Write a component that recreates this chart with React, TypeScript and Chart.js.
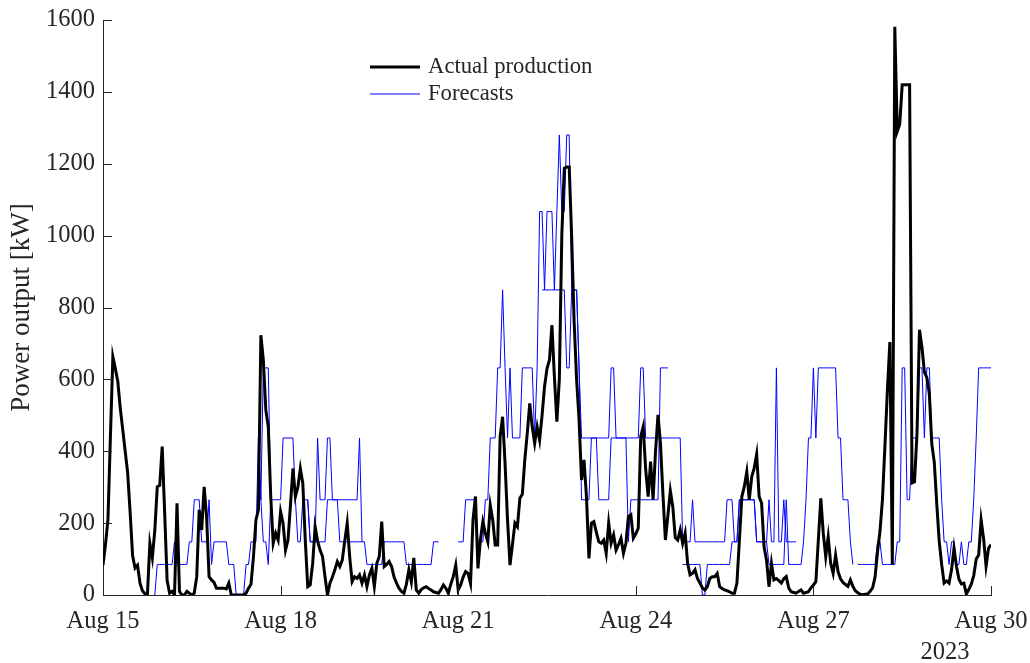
import React, { useEffect, useRef } from "react";
import { Chart, registerables } from "chart.js";

Chart.register(...registerables);

// Hourly measured output [kW], one array per day (first value = 00:00)
const aug15 = [83, 140, 209, 440, 663, 630, 594, 520, 460, 400, 340, 230, 110, 75, 83, 33, 12, 3, 0, 144, 103, 180, 301, 305];
const aug16 = [413, 228, 40, 5, 10, 0, 255, 10, 0, 0, 10, 5, 0, 5, 51, 237, 181, 301, 218, 51, 42, 35, 19, 19];
const aug17 = [19, 19, 17, 33, 0, 0, 0, 0, 0, 0, 5, 19, 30, 107, 209, 237, 723, 654, 515, 468, 274, 144, 172, 153];
const aug18 = [232, 200, 125, 153, 250, 352, 274, 300, 352, 311, 153, 23, 28, 88, 190, 150, 125, 107, 51, 0, 33, 50, 70, 93];
const aug19 = [79, 97, 150, 200, 107, 37, 51, 46, 56, 33, 56, 23, 56, 74, 23, 88, 107, 204, 79, 85, 93, 79, 50, 33];
const aug20 = [19, 10, 5, 30, 70, 37, 103, 14, 5, 15, 20, 23, 18, 14, 9, 7, 5, 15, 28, 19, 5, 30, 51, 83];
const aug21 = [14, 28, 50, 65, 60, 32, 209, 274, 74, 153, 204, 172, 148, 250, 209, 139, 139, 441, 496, 366, 209, 83, 140, 200];
const aug22 = [190, 269, 280, 376, 450, 533, 468, 422, 468, 431, 500, 580, 630, 654, 751, 607, 482, 600, 1000, 1187, 1191, 1191, 997, 760];
const aug23 = [600, 487, 320, 376, 274, 102, 200, 204, 175, 148, 144, 153, 116, 200, 144, 167, 125, 140, 158, 116, 144, 218, 223, 158];
const aug24 = [170, 186, 441, 468, 350, 274, 371, 265, 400, 501, 422, 280, 153, 220, 290, 245, 160, 153, 181, 144, 172, 88, 56, 60];
const aug25 = [70, 46, 33, 20, 14, 23, 46, 51, 51, 60, 23, 18, 14, 12, 9, 5, 5, 33, 153, 274, 302, 343, 265, 329];
const aug26 = [353, 392, 274, 255, 134, 97, 23, 88, 42, 46, 40, 33, 45, 51, 19, 9, 7, 5, 10, 14, 5, 7, 9, 20];
const aug27 = [28, 37, 153, 269, 172, 107, 162, 88, 60, 111, 65, 45, 35, 29, 24, 42, 24, 12, 6, 2, 1, 2, 3, 10];
const aug28 = [20, 50, 120, 178, 266, 415, 570, 704, 85, 1581, 1290, 1310, 1420, 1420, 1420, 1420, 312, 315, 450, 738, 690, 620, 605, 560];
const aug29 = [420, 370, 255, 150, 85, 33, 39, 33, 70, 130, 80, 44, 31, 33, 3, 15, 30, 54, 100, 111, 209, 157, 80, 130];
const aug30 = [140];

// Forecast runs [kW]; each run starts at the given hour after Aug 15 00:00
const forecastRun1Start = 21;
const forecastRun1 = [
  0, 85, 85, 85, 85, 85, 85, 85, 148, 85, 85, 85, 85, 85, 148, 148, 265, 265, 265, 148, 148, 148, 265, 85,
  148, 148, 148, 148, 148, 148, 85, 85, 85, 0, 0, 0, 0, 85, 85, 148, 148, 148, 437, 265, 148, 148, 85,
  265, 265, 265, 265, 265, 437, 437, 437, 437, 437, 265, 148, 148, 265, 265, 265, 148, 148, 148, 437,
  265, 265, 265, 437, 437, 265, 265, 265, 265, 265, 265, 265, 265, 265, 265, 265, 437, 148, 148,
  85, 85, 85, 85, 85, 85, 85, 148, 148, 148, 148, 148, 148, 148, 148, 148,
  85, 85, 85, 85, 85, 85, 85, 85, 85, 85, 85, 148, 148, 148,
];
const forecastRun2Start = 63;
const forecastRun2 = [437, 265, 632, 632, 632, 265];
const forecastRun3Start = 83;
const forecastRun3 = [
  265, 148, 148, 148, 148, 148, 148, 148, 265, 265, 265, 265, 265,
  148, 148, 148, 148, 148, 148, 148, 148, 148, 148,
];
const forecastRun4Start = 144;
const forecastRun4 = [
  148, 148, 148, 265, 265, 265, 265, 265, 148, 148, 148, 265, 265, 437, 437, 437, 632, 632, 849, 632, 437, 632,
  437, 437, 437, 437, 632, 632, 632, 632, 632, 437, 632, 1067, 1067, 849, 1067, 1067, 1067, 849, 1067, 1280,
  1067, 1067, 1280, 1280, 849, 849, 849, 632,
  437, 437, 437, 437, 437, 437, 437, 437, 437, 437, 437, 437, 632, 632,
  437, 437, 437, 437, 437, 437, 437, 437, 437, 437, 632, 632,
  437, 437, 437, 437, 437, 437, 437, 437, 437, 437, 437, 437, 437, 437, 437,
  148, 148, 148, 148, 265, 148, 148, 148, 148, 148, 148, 148, 148, 148, 148, 148, 148, 148,
  265, 265, 265, 148, 148, 265, 265, 265, 265, 265, 265, 265, 148, 148, 148, 148, 148,
  265, 148, 148, 632, 148, 148, 265, 148, 148, 148, 148, 148,
];
const forecastRun5Start = 178;
const forecastRun5 = [
  849, 849, 849, 849, 849, 849, 849, 849, 849, 849, 632, 632, 849, 849, 849, 632,
  265, 265, 265, 265, 437, 437, 437, 265, 265, 265, 265, 265, 437, 437, 437, 437, 437, 437, 437, 148,
  265, 265, 265, 265, 265, 265, 265, 265, 265, 265, 265, 265, 632, 632, 632, 632,
];
const forecastRun6Start = 235;
const forecastRun6 = [
  85, 85, 85, 85, 85, 85, 85, 85, 0, 0, 85, 85, 85, 85, 85, 85, 85, 85, 85, 85,
  148, 148, 148, 265, 265, 265, 265, 265, 265, 265, 148, 148, 148, 148, 148,
  85, 85, 85, 85, 85, 85, 85, 265, 85, 85, 85, 85, 85, 85, 148, 265, 437, 437, 632, 437,
  632, 632, 632, 632, 632, 632, 632, 632, 437, 437, 265, 265, 265, 148, 85,
];
const forecastRun7Start = 306;
const forecastRun7 = [
  85, 85, 85, 85, 85, 85, 85, 85, 148, 148, 85, 85, 85, 85, 85, 85, 148, 148, 632, 632, 265, 265,
  437, 437, 437, 632, 632, 437, 632, 632, 437, 437, 437, 437, 265, 148, 148, 85, 148, 148, 85, 85,
  148, 85, 85, 148, 148, 265, 437, 632, 632, 632, 632, 632, 632,
];

// Axis ticks
const xTickHours = [0, 72, 144, 216, 288, 360];
const xTickLabels = ["Aug 15", "Aug 18", "Aug 21", "Aug 24", "Aug 27", "Aug 30"];
const yearLabel = "2023";
const yMin = 0;
const yMax = 1600;
const yStep = 200;

const yAxisTitle = "Power output [kW]";
const actualLabel = "Actual production";
const forecastLabel = "Forecasts";

const SERIF = '"Liberation Serif", "Times New Roman", serif';
const AXIS_COLOR = "#262626";
const ACTUAL_COLOR = "#000000";
const FORECAST_COLOR = "#0000ff";

const actualProduction = [
  ...aug15, ...aug16, ...aug17, ...aug18, ...aug19, ...aug20, ...aug21, ...aug22,
  ...aug23, ...aug24, ...aug25, ...aug26, ...aug27, ...aug28, ...aug29, ...aug30,
];

const forecastRuns: [number, number[]][] = [
  [forecastRun1Start, forecastRun1],
  [forecastRun2Start, forecastRun2],
  [forecastRun3Start, forecastRun3],
  [forecastRun4Start, forecastRun4],
  [forecastRun5Start, forecastRun5],
  [forecastRun6Start, forecastRun6],
  [forecastRun7Start, forecastRun7],
];

const toPoints = (start: number, values: number[]) => values.map((v, i) => ({ x: start + i, y: v }));

// Inward tick marks, the year under the date axis and the legend
const decorations = {
  id: "decorations",
  afterDraw(chart: any) {
    const { ctx, chartArea, scales } = chart;
    const xs = scales.x;
    const ys = scales.y;
    const tickLen = 9;
    ctx.save();
    ctx.strokeStyle = AXIS_COLOR;
    ctx.lineWidth = 1;
    ctx.beginPath();
    for (const h of xTickHours) {
      const px = Math.round(xs.getPixelForValue(h)) + 0.5;
      ctx.moveTo(px, chartArea.bottom);
      ctx.lineTo(px, chartArea.bottom - tickLen);
    }
    for (let v = yMin; v <= yMax; v += yStep) {
      const py = Math.round(ys.getPixelForValue(v)) + 0.5;
      ctx.moveTo(chartArea.left, py);
      ctx.lineTo(chartArea.left + tickLen, py);
    }
    ctx.stroke();

    ctx.fillStyle = AXIS_COLOR;
    ctx.font = `24.5px ${SERIF}`;
    ctx.textAlign = "center";
    ctx.textBaseline = "alphabetic";
    ctx.fillText(yearLabel, xs.getPixelForValue(360) - 46, 659);

    const items = [
      { text: actualLabel, color: ACTUAL_COLOR, width: 3 },
      { text: forecastLabel, color: FORECAST_COLOR, width: 1 },
    ];
    const lx = chartArea.left + 267;
    ctx.font = `22.7px ${SERIF}`;
    ctx.textAlign = "left";
    ctx.textBaseline = "middle";
    items.forEach((it, i) => {
      const ly = chartArea.top + 47 + i * 27;
      ctx.strokeStyle = it.color;
      ctx.lineWidth = it.width;
      ctx.beginPath();
      ctx.moveTo(lx, ly);
      ctx.lineTo(lx + 50, ly);
      ctx.stroke();
      ctx.fillStyle = AXIS_COLOR;
      ctx.fillText(it.text, lx + 58, ly);
    });
    ctx.restore();
  },
};

export default function App() {
  const canvasRef = useRef<HTMLCanvasElement>(null);

  useEffect(() => {
    const canvas = canvasRef.current;
    if (!canvas) return;

    const datasets: any[] = [
      {
        label: actualLabel,
        data: toPoints(0, actualProduction),
        borderColor: ACTUAL_COLOR,
        borderWidth: 3,
        pointRadius: 0,
        tension: 0,
        order: 0,
      },
      ...forecastRuns.map(([start, values], i) => ({
        label: `${forecastLabel} ${i + 1}`,
        data: toPoints(start, values),
        borderColor: FORECAST_COLOR,
        borderWidth: 1,
        pointRadius: 0,
        tension: 0,
        order: 1,
      })),
    ];

    const tickFont = { family: SERIF, size: 24.5 };

    const chart = new Chart(canvas, {
      type: "line",
      data: { datasets },
      options: {
        responsive: false,
        animation: false,
        events: [],
        layout: { padding: { top: 20, right: 39, bottom: 0, left: 0 } },
        plugins: { legend: { display: false }, tooltip: { enabled: false } },
        scales: {
          x: {
            type: "linear",
            min: 0,
            max: 360,
            afterBuildTicks: (scale: any) => {
              scale.ticks = xTickHours.map((v) => ({ value: v }));
            },
            afterFit: (scale: any) => {
              scale.height = 68;
              scale.paddingLeft = 0;
              scale.paddingRight = 0;
            },
            ticks: {
              autoSkip: false,
              maxRotation: 0,
              padding: 12,
              color: AXIS_COLOR,
              font: tickFont,
              callback: (value: any) => xTickLabels[xTickHours.indexOf(Number(value))] ?? "",
            },
            grid: { display: false, drawTicks: false },
            border: { display: true, color: AXIS_COLOR, width: 1 },
          },
          y: {
            type: "linear",
            min: yMin,
            max: yMax,
            afterFit: (scale: any) => {
              scale.width = 103;
              scale.paddingTop = 0;
              scale.paddingBottom = 0;
            },
            ticks: {
              stepSize: yStep,
              padding: 8,
              color: AXIS_COLOR,
              font: tickFont,
              callback: (value: any) => String(value),
            },
            grid: { display: false, drawTicks: false },
            border: { display: true, color: AXIS_COLOR, width: 1 },
            title: {
              display: true,
              text: yAxisTitle,
              color: AXIS_COLOR,
              font: { family: SERIF, size: 27 },
              padding: { top: 6, bottom: 0 },
            },
          },
        },
      },
      plugins: [decorations],
    } as any);

    return () => chart.destroy();
  }, []);

  return (
    <div style={{ position: "absolute", left: 0, top: 0, width: 1030, height: 663, background: "#ffffff" }}>
      <canvas ref={canvasRef} width={1030} height={663} style={{ display: "block", width: 1030, height: 663 }} />
    </div>
  );
}
